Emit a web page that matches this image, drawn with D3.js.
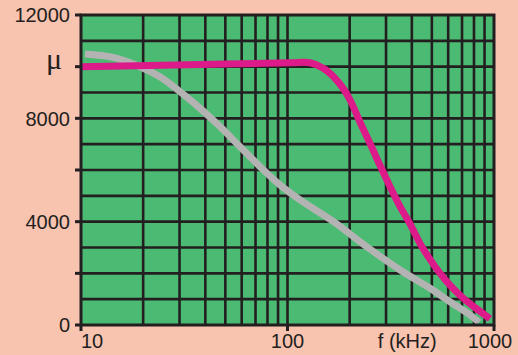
<!DOCTYPE html>
<html>
<head>
<meta charset="utf-8">
<script src="https://cdn.jsdelivr.net/npm/d3@7"></script>
<style>
  body { margin: 0; background: #f8c3af; }
  svg { display: block; }
  text { font-family: "Liberation Sans", Arial, sans-serif; fill: #231f20; }
</style>
</head>
<body>
<div id="vis"></div>
<script>
// values (f in kHz, permeability)
var pinkCurve = [
    [10, 10000], [37.7, 10080], [102.8, 10150], [128.5, 10150], [149, 9940],
    [167, 9610], [186, 9160], [201, 8710], [224, 7870], [251, 7030], [280, 6190],
    [314, 5350], [351, 4580], [399, 3800], [438, 3160], [490, 2540], [548, 2000],
    [612, 1540], [684, 1150], [765, 820], [855, 530], [956, 240]
];
var greyCurve = [
    [10.45, 10490], [14.3, 10360], [19.3, 10000], [24.1, 9610], [30.2, 9030],
    [37.7, 8390], [47.1, 7680], [58.9, 6900], [73.6, 6130], [92, 5420],
    [115, 4840], [167, 4000], [242, 3030], [351, 2130], [490, 1420],
    [612, 900], [765, 390], [846, 100]
];
var xGrid = [20, 30, 40, 50, 60, 70, 80, 90, 100, 200, 300, 400, 500, 600, 700, 800, 900];
var yGrid = [1000, 2000, 3000, 4000, 5000, 6000, 7000, 8000, 9000, 10000, 11000];
var xLabels = [10, 100, 1000];
var yTicks = [0, 2000, 4000, 6000, 8000, 10000, 12000];
var yLabels = [0, 4000, 8000, 12000];

var theMargins = { top: 15, right: 24, bottom: 30, left: 81 };
var width = 518 - theMargins.left - theMargins.right;
var height = 355 - theMargins.top - theMargins.bottom;

var x = d3.scaleLog().domain([10, 1000]).range([0, width]);
var y = d3.scaleLinear().domain([0, 12000]).range([height, 0]);

var chart = d3.select('#vis').append('svg')
    .attr("width", 518)
    .attr("height", 355);
var vis = chart.append('g')
    .attr("transform", "translate(" + theMargins.left + "," + theMargins.top + ")");

vis.append("rect")
    .attr("width", width).attr("height", height)
    .attr("fill", "#4bba72");

// grid
vis.selectAll(".vgrid").data(xGrid).enter().append("line")
    .attr("x1", x).attr("x2", x)
    .attr("y1", 0).attr("y2", height)
    .attr("stroke", "#231f20").attr("stroke-width", 2.6);
vis.selectAll(".hgrid").data(yGrid).enter().append("line")
    .attr("x1", 0).attr("x2", width)
    .attr("y1", y).attr("y2", y)
    .attr("stroke", "#231f20").attr("stroke-width", 2.6);

// curves
var line = d3.line()
    .x(function(d) { return x(d[0]); })
    .y(function(d) { return y(d[1]); })
    .curve(d3.curveCatmullRom.alpha(0.5));

vis.append("path").datum(greyCurve)
    .attr("d", line)
    .attr("fill", "none").attr("stroke", "#b3b3b3").attr("stroke-width", 7);
vis.append("path").datum(pinkCurve)
    .attr("d", line)
    .attr("fill", "none").attr("stroke", "#dc1a8a").attr("stroke-width", 7);

// frame
vis.append("rect")
    .attr("width", width).attr("height", height)
    .attr("fill", "none").attr("stroke", "#231f20").attr("stroke-width", 3);

// ticks
vis.selectAll(".ytick").data(yTicks).enter().append("line")
    .attr("x1", -6).attr("x2", 0)
    .attr("y1", y).attr("y2", y)
    .attr("stroke", "#231f20").attr("stroke-width", 3);
vis.selectAll(".xtick").data(xLabels).enter().append("line")
    .attr("x1", x).attr("x2", x)
    .attr("y1", height).attr("y2", height + 6)
    .attr("stroke", "#231f20").attr("stroke-width", 3);

// labels
vis.selectAll(".ylab").data(yLabels).enter().append("text")
    .attr("x", -11).attr("y", y).attr("dy", "0.36em")
    .attr("text-anchor", "end")
    .style("font-size", "20px")
    .text(function(d) { return d; });

vis.append("text")
    .attr("x", -19).attr("y", y(10000) + 2)
    .attr("text-anchor", "end")
    .style("font-family", "'Liberation Serif', serif")
    .style("font-size", "30px")
    .text("μ");

vis.append("text")
    .attr("x", x(10)).attr("y", height + 23)
    .style("font-size", "20px")
    .text("10");
vis.append("text")
    .attr("x", x(100)).attr("y", height + 23)
    .attr("text-anchor", "middle")
    .style("font-size", "20px")
    .text("100");
vis.append("text")
    .attr("x", x(1000) - 4).attr("y", height + 23)
    .attr("text-anchor", "middle")
    .style("font-size", "20px")
    .text("1000");
vis.append("text")
    .attr("x", x(380)).attr("y", height + 23)
    .attr("text-anchor", "middle")
    .style("font-size", "20px")
    .text("f (kHz)");
</script>
</body>
</html>
